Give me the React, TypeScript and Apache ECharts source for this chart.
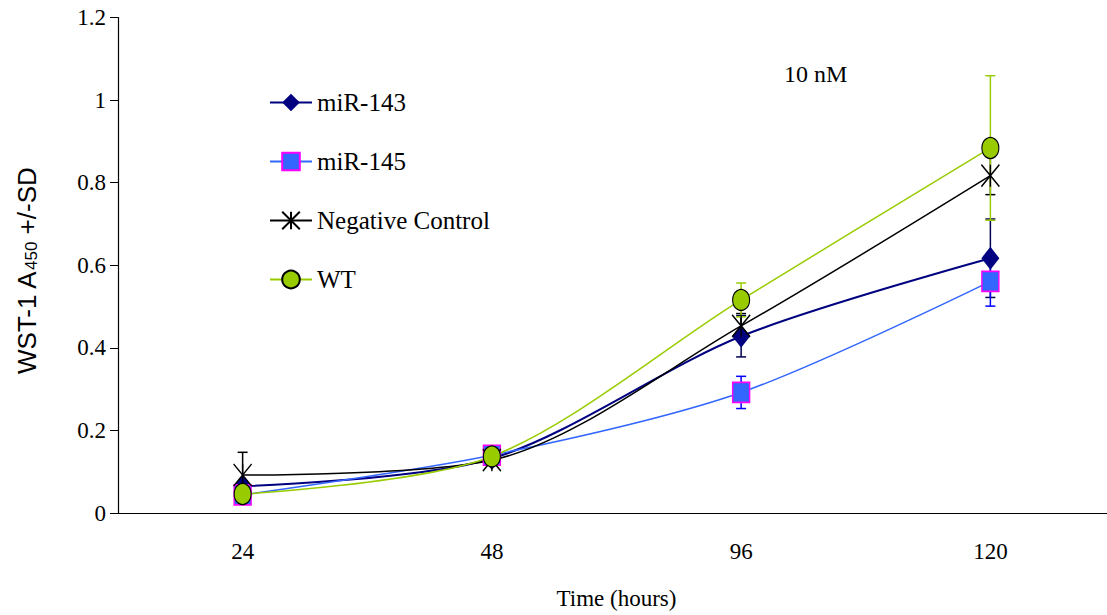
import React, { useEffect, useRef } from "react";
import * as echarts from "echarts";

const categories = ["24", "48", "96", "120"];
const seriesNames = ["miR-143", "miR-145", "Negative Control", "WT"];
const mir143 = [0.065, 0.132, 0.428, 0.617];
const mir145 = [0.044, 0.14, 0.292, 0.561];
const negCtrl = [0.092, 0.128, 0.453, 0.817];
const wt = [0.046, 0.137, 0.516, 0.884];
const mir143Sd = [0.01, 0.01, 0.05, 0.095];
const mir145Sd = [0.008, 0.01, 0.039, 0.06];
const negCtrlSd = [0.055, 0.01, 0.03, 0.046];
const wtSd = [0.008, 0.01, 0.041, 0.175];
const yTicks = [0, 0.2, 0.4, 0.6, 0.8, 1, 1.2];

const SERIF = "Liberation Serif";
const SANS = "Liberation Sans";

const asterisk = "path://M0,0L10,12M10,0L0,12M5,0L5,12";

function errorSeries(values: number[], sd: number[], color: string) {
  return {
    type: "custom",
    z: 1,
    silent: true,
    data: values.map((v, i) => [i, v, sd[i]]),
    encode: { x: 0, y: 1 },
    renderItem: (params: any, api: any) => {
      const i = api.value(0);
      const v = api.value(1);
      const e = api.value(2);
      const top = api.coord([i, v + e]);
      const bot = api.coord([i, v - e]);
      const x = top[0];
      const hw = 5;
      const st = { stroke: color, lineWidth: 1.5 };
      return {
        type: "group",
        children: [
          { type: "line", shape: { x1: x, y1: top[1], x2: x, y2: bot[1] }, style: st },
          { type: "line", shape: { x1: x - hw, y1: top[1], x2: x + hw, y2: top[1] }, style: st },
          { type: "line", shape: { x1: x - hw, y1: bot[1], x2: x + hw, y2: bot[1] }, style: st },
        ],
      };
    },
  };
}

export default function App() {
  const ref = useRef<HTMLDivElement>(null);
  useEffect(() => {
    if (!ref.current) return;
    const chart = echarts.init(ref.current, null, { renderer: "svg" });
    const option: any = {
      animation: false,
      backgroundColor: "#ffffff",
      grid: { left: 118, top: 17.5, width: 997, height: 497.5, containLabel: false },
      legend: {
        data: seriesNames,
        orient: "vertical",
        left: 264,
        top: 85,
        itemWidth: 42,
        itemHeight: 22,
        itemGap: 34,
        textStyle: { fontFamily: SERIF, fontSize: 25, color: "#000", lineHeight: 24 },
      },
      xAxis: {
        type: "category",
        data: categories,
        boundaryGap: true,
        name: "Time (hours)",
        nameLocation: "middle",
        nameGap: 74,
        nameTextStyle: { fontFamily: SERIF, fontSize: 23, color: "#000" },
        axisLine: { lineStyle: { color: "#000", width: 1.2 } },
        axisTick: { alignWithLabel: false, length: 9, lineStyle: { color: "#000" } },
        axisLabel: { fontFamily: SERIF, fontSize: 23, color: "#000", margin: 27 },
        splitLine: { show: false },
      },
      yAxis: {
        type: "value",
        min: 0,
        max: 1.2,
        interval: 0.2,
        axisLine: { show: true, lineStyle: { color: "#000", width: 1.2 } },
        axisTick: { show: true, length: 8, lineStyle: { color: "#000" } },
        axisLabel: {
          fontFamily: SERIF,
          fontSize: 23,
          color: "#000",
          margin: 12,
          formatter: (v: number) => {
            const t = yTicks.find((y) => Math.abs(y - v) < 1e-6);
            return t === undefined ? "" : String(t);
          },
        },
        splitLine: { show: false },
      },
      graphic: [
        {
          type: "text",
          left: 784,
          top: 62,
          style: { text: "10 nM", fontFamily: SERIF, fontSize: 24, fill: "#000" },
        },
        {
          type: "text",
          x: 13,
          y: 374,
          rotation: Math.PI / 2,
          style: {
            text: "{a|WST-1 A}{s|450}{a| +/-SD}",
            rich: {
              a: { fontFamily: SANS, fontSize: 26, fill: "#000" },
              s: { fontFamily: SANS, fontSize: 17, fill: "#000", padding: [10, 0, 0, 0] },
            },
            fill: "#000",
          },
        },
      ],
      series: [
        errorSeries(mir143, mir143Sd, "#000050"),
        errorSeries(mir145, mir145Sd, "#0000ff"),
        errorSeries(negCtrl, negCtrlSd, "#000000"),
        errorSeries(wt, wtSd, "#99cc00"),
        {
          name: "miR-143",
          type: "line",
          z: 3,
          data: mir143,
          smooth: 0.3,
          symbol: "diamond",
          symbolSize: [18, 23],
          lineStyle: { color: "#000080", width: 2 },
          itemStyle: { color: "#000080", borderColor: "#000080", borderWidth: 0 },
        },
        {
          name: "miR-145",
          type: "line",
          z: 3,
          data: mir145,
          smooth: 0.3,
          symbol: "rect",
          symbolSize: [17, 20],
          lineStyle: { color: "#3366ff", width: 1.5 },
          itemStyle: { color: "#3366ff", borderColor: "#ff00ff", borderWidth: 1.5 },
        },
        {
          name: "Negative Control",
          type: "line",
          z: 3,
          data: negCtrl,
          smooth: 0.3,
          symbol: asterisk,
          symbolSize: [18, 22],
          showAllSymbol: true,
          lineStyle: { color: "#000000", width: 1.5 },
          itemStyle: { color: "#000000", borderColor: "#000000", borderWidth: 1.5 },
        },
        {
          name: "WT",
          type: "line",
          z: 3,
          data: wt,
          smooth: 0.3,
          symbol: "circle",
          symbolSize: [17, 21],
          lineStyle: { color: "#99cc00", width: 1.5 },
          itemStyle: { color: "#99cc00", borderColor: "#000000", borderWidth: 1.2 },
        },
      ],
    };
    chart.setOption(option);
    return () => chart.dispose();
  }, []);
  return (
    <div
      ref={ref}
      style={{ position: "fixed", left: 0, top: 0, width: 1120, height: 615, background: "#fff" }}
    />
  );
}
